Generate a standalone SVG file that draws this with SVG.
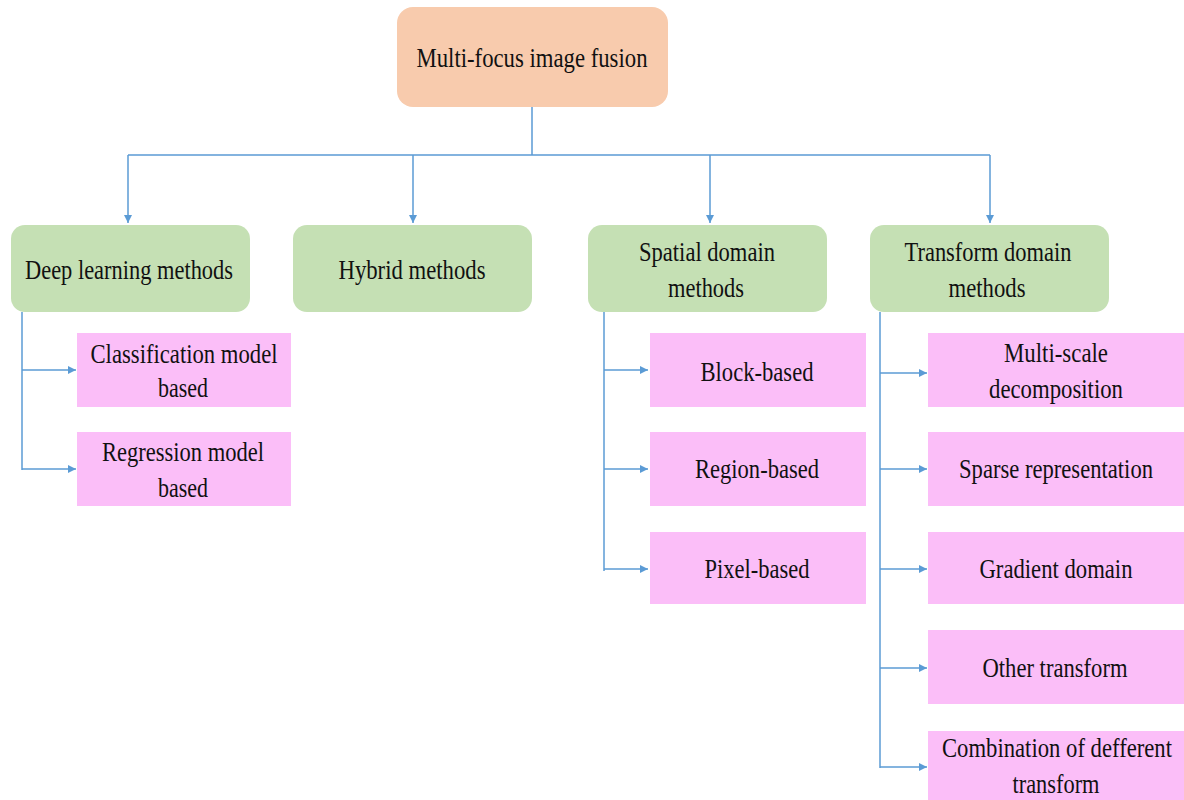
<svg xmlns="http://www.w3.org/2000/svg" width="1184" height="800" viewBox="0 0 1184 800">
  <defs>
    <marker id="arrow" viewBox="0 0 10 10" refX="10" refY="5" markerWidth="9" markerHeight="8" markerUnits="userSpaceOnUse" orient="auto">
      <path d="M0,0 L10,5 L0,10 z" fill="#5B9BD5"/>
    </marker>
    <style>
      .root { fill: #F8CBAD; }
      .cat { fill: #C5E0B4; }
      .leaf { fill: #FBBEF8; }
      .lbl { font-family: 'Liberation Serif', 'DejaVu Serif', serif; font-size: 28px; fill: #111; text-anchor: middle; }
      .link { fill: none; stroke: #5B9BD5; stroke-width: 1.5; }
      .arr { marker-end: url(#arrow); }
    </style>
  </defs>
  <rect width="1184" height="800" fill="#FFFFFF"/>

  <!-- connectors -->
  <g id="connectors">
    <path class="link" d="M532,107 V155 M128,155 H990"/>
    <path class="link arr" d="M128,155 V223"/>
    <path class="link arr" d="M413,155 V223"/>
    <path class="link arr" d="M710,155 V223"/>
    <path class="link arr" d="M990,155 V223"/>

    <path class="link" d="M22,312 V470"/>
    <path class="link arr" d="M22,370 H76"/>
    <path class="link arr" d="M22,469 H76"/>

    <path class="link" d="M604,312 V571"/>
    <path class="link arr" d="M604,370 H648"/>
    <path class="link arr" d="M604,469 H648"/>
    <path class="link arr" d="M604,569 H648"/>

    <path class="link" d="M880,312 V768"/>
    <path class="link arr" d="M880,373 H927"/>
    <path class="link arr" d="M880,469 H927"/>
    <path class="link arr" d="M880,569 H927"/>
    <path class="link arr" d="M880,668 H927"/>
    <path class="link arr" d="M880,767 H927"/>
  </g>

  <!-- root -->
  <g id="node-root">
    <rect class="root" x="397" y="7" width="271" height="100" rx="16"/>
    <text class="lbl" x="532" y="67" textLength="231" lengthAdjust="spacingAndGlyphs">Multi-focus image fusion</text>
  </g>

  <!-- method families -->
  <g id="node-deep">
    <rect class="cat" x="11" y="225" width="239" height="87" rx="14"/>
    <text class="lbl" x="129" y="279" textLength="208" lengthAdjust="spacingAndGlyphs">Deep learning methods</text>
  </g>
  <g id="node-hybrid">
    <rect class="cat" x="293" y="225" width="239" height="87" rx="14"/>
    <text class="lbl" x="412" y="279" textLength="147" lengthAdjust="spacingAndGlyphs">Hybrid methods</text>
  </g>
  <g id="node-spatial">
    <rect class="cat" x="588" y="225" width="239" height="87" rx="14"/>
    <text class="lbl" x="707" y="261" textLength="136" lengthAdjust="spacingAndGlyphs">Spatial domain</text>
    <text class="lbl" x="706" y="297" textLength="76" lengthAdjust="spacingAndGlyphs">methods</text>
  </g>
  <g id="node-transform">
    <rect class="cat" x="870" y="225" width="239" height="87" rx="14"/>
    <text class="lbl" x="988" y="261" textLength="167" lengthAdjust="spacingAndGlyphs">Transform domain</text>
    <text class="lbl" x="987" y="297" textLength="77" lengthAdjust="spacingAndGlyphs">methods</text>
  </g>

  <!-- deep learning leaves -->
  <g id="node-classification">
    <rect class="leaf" x="77" y="333" width="214" height="74"/>
    <text class="lbl" x="184" y="363" textLength="187" lengthAdjust="spacingAndGlyphs">Classification model</text>
    <text class="lbl" x="183" y="397" textLength="50" lengthAdjust="spacingAndGlyphs">based</text>
  </g>
  <g id="node-regression">
    <rect class="leaf" x="77" y="432" width="214" height="74"/>
    <text class="lbl" x="183" y="461" textLength="162" lengthAdjust="spacingAndGlyphs">Regression model</text>
    <text class="lbl" x="183" y="497" textLength="50" lengthAdjust="spacingAndGlyphs">based</text>
  </g>

  <!-- spatial domain leaves -->
  <g id="node-block">
    <rect class="leaf" x="650" y="333" width="216" height="74"/>
    <text class="lbl" x="757" y="381" textLength="113" lengthAdjust="spacingAndGlyphs">Block-based</text>
  </g>
  <g id="node-region">
    <rect class="leaf" x="650" y="432" width="216" height="74"/>
    <text class="lbl" x="757" y="478" textLength="124" lengthAdjust="spacingAndGlyphs">Region-based</text>
  </g>
  <g id="node-pixel">
    <rect class="leaf" x="650" y="532" width="216" height="72"/>
    <text class="lbl" x="757" y="578" textLength="105" lengthAdjust="spacingAndGlyphs">Pixel-based</text>
  </g>

  <!-- transform domain leaves -->
  <g id="node-multiscale">
    <rect class="leaf" x="928" y="333" width="256" height="74"/>
    <text class="lbl" x="1056" y="362" textLength="104" lengthAdjust="spacingAndGlyphs">Multi-scale</text>
    <text class="lbl" x="1056" y="398" textLength="134" lengthAdjust="spacingAndGlyphs">decomposition</text>
  </g>
  <g id="node-sparse">
    <rect class="leaf" x="928" y="432" width="256" height="74"/>
    <text class="lbl" x="1056" y="478" textLength="194" lengthAdjust="spacingAndGlyphs">Sparse representation</text>
  </g>
  <g id="node-gradient">
    <rect class="leaf" x="928" y="532" width="256" height="72"/>
    <text class="lbl" x="1056" y="578" textLength="153" lengthAdjust="spacingAndGlyphs">Gradient domain</text>
  </g>
  <g id="node-other">
    <rect class="leaf" x="928" y="630" width="256" height="74"/>
    <text class="lbl" x="1055" y="677" textLength="145" lengthAdjust="spacingAndGlyphs">Other transform</text>
  </g>
  <g id="node-combination">
    <rect class="leaf" x="928" y="731" width="256" height="69"/>
    <text class="lbl" x="1057" y="757" textLength="230" lengthAdjust="spacingAndGlyphs">Combination of defferent</text>
    <text class="lbl" x="1056" y="793" textLength="87" lengthAdjust="spacingAndGlyphs">transform</text>
  </g>
</svg>
